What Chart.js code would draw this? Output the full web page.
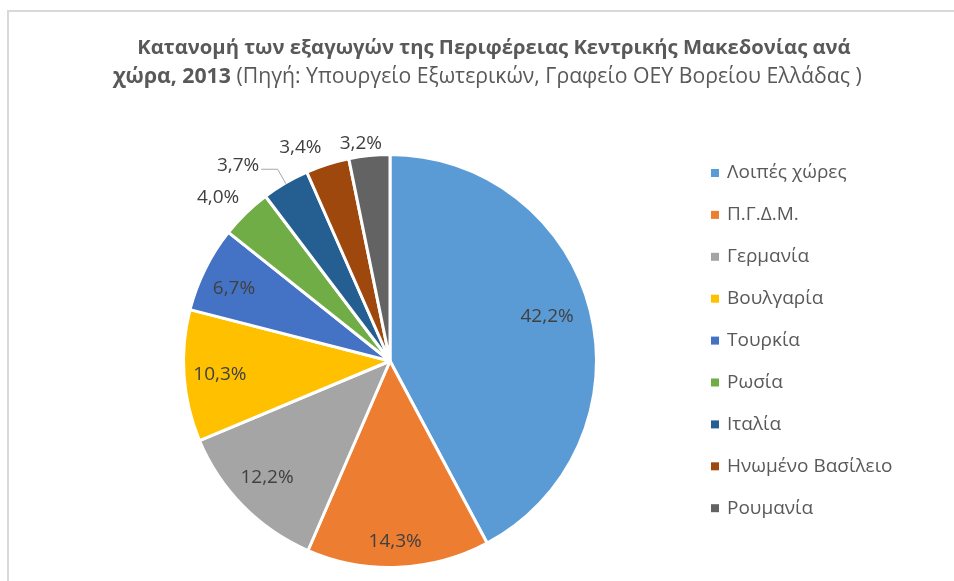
<!DOCTYPE html>
<html><head><meta charset="utf-8">
<script src="https://cdn.jsdelivr.net/npm/chart.js@4"></script>
<style>html,body{margin:0;padding:0;background:#fff}canvas{display:block}</style>
</head><body>
<canvas id="c" width="954" height="581"></canvas>
<script>
const categories = ['Λοιπές χώρες','Π.Γ.Δ.Μ.','Γερμανία','Βουλγαρία','Τουρκία','Ρωσία','Ιταλία','Ηνωμένο Βασίλειο','Ρουμανία'];
const shares = [42.2, 14.3, 12.2, 10.3, 6.7, 4.0, 3.7, 3.4, 3.2];
const sliceColors = ['#5B9BD5','#ED7D31','#A5A5A5','#FFC000','#4472C4','#70AD47','#255E91','#9E480E','#636363'];
const titleLine1 = 'Κατανομή των εξαγωγών της Περιφέρειας Κεντρικής Μακεδονίας ανά';
const titleLine2Bold = 'χώρα, 2013';
const titleLine2Rest = ' (Πηγή: Υπουργείο Εξωτερικών, Γραφείο ΟΕΥ Βορείου Ελλάδας )';

// label placement style: [radius fraction, angle shift (deg), leader line]
const labelPlacement = [[0.79,-1.6,false],[0.877,0.7,false],[0.82,1.2,false],[0.826,-0.3,false],[0.832,-1.7,false],[1.15,-2.1,false],[1.2,-7.4,true],[1.123,-5.1,false],[1.06,-1.9,false]];

const FAMILY = '"Open Sans", "Noto Sans", sans-serif';

const framePlugin = {
  id: 'frame',
  beforeDraw(chart) {
    const ctx = chart.ctx;
    ctx.save();
    ctx.fillStyle = '#d9d9d9';
    ctx.fillRect(7, 10, 2, 571);
    ctx.fillRect(7, 10, 947, 2);
    ctx.restore();
  }
};

const titlePlugin = {
  id: 'mixedTitle',
  afterDraw(chart) {
    const ctx = chart.ctx;
    ctx.save();
    ctx.fillStyle = '#595959';
    ctx.textBaseline = 'middle';
    ctx.font = 'bold 20px ' + FAMILY;
    const w1 = ctx.measureText(titleLine1).width;
    const s1 = 20 * 714 / w1;
    ctx.font = 'bold ' + s1 + 'px ' + FAMILY;
    ctx.textAlign = 'center';
    ctx.fillText(titleLine1, 494, 48);
    ctx.font = 'bold 20px ' + FAMILY;
    const wb = ctx.measureText(titleLine2Bold).width;
    ctx.font = '20px ' + FAMILY;
    const wn = ctx.measureText(titleLine2Rest).width;
    const s2 = 20 * 749 / (wb + wn);
    ctx.textAlign = 'left';
    ctx.font = 'bold ' + s2 + 'px ' + FAMILY;
    ctx.fillText(titleLine2Bold, 113, 77);
    const wbs = ctx.measureText(titleLine2Bold).width;
    ctx.font = s2 + 'px ' + FAMILY;
    ctx.fillText(titleLine2Rest, 113 + wbs, 77);
    ctx.restore();
  }
};

const legendPlugin = {
  id: 'sideLegend',
  afterDraw(chart) {
    const ctx = chart.ctx;
    const ds = chart.data.datasets[0];
    ctx.save();
    ctx.font = '19px ' + FAMILY;
    ctx.textBaseline = 'middle';
    ctx.textAlign = 'left';
    chart.data.labels.forEach((lab, i) => {
      const yc = 173 + i * 41.9;
      ctx.fillStyle = ds.backgroundColor[i];
      ctx.fillRect(711, yc - 4, 8, 8);
      ctx.fillStyle = '#595959';
      ctx.fillText(lab, 727, yc);
    });
    ctx.restore();
  }
};

const labelPlugin = {
  id: 'sliceLabels',
  afterDatasetsDraw(chart) {
    const ctx = chart.ctx;
    const meta = chart.getDatasetMeta(0);
    const vals = chart.data.datasets[0].data;
    ctx.save();
    ctx.font = '19px ' + FAMILY;
    ctx.fillStyle = '#404040';
    ctx.textAlign = 'center';
    ctx.textBaseline = 'middle';
    meta.data.forEach((arc, i) => {
      const p = arc.getProps(['x','y','startAngle','endAngle','outerRadius'], true);
      const [k, dDeg, leader] = labelPlacement[i];
      const mid = (p.startAngle + p.endAngle) / 2;
      const a = mid + dDeg * Math.PI / 180;
      const lx = p.x + Math.cos(a) * p.outerRadius * k;
      const ly = p.y + Math.sin(a) * p.outerRadius * k;
      const txt = vals[i].toFixed(1).replace('.', ',') + '%';
      ctx.fillText(txt, lx, ly);
      if (leader) {
        const tw = ctx.measureText(txt).width;
        const ex = p.x + Math.cos(mid) * (p.outerRadius - 1);
        const ey = p.y + Math.sin(mid) * (p.outerRadius - 1);
        const y0 = ly + 4;
        const bx = ex - (ey - y0) * 0.57;
        ctx.strokeStyle = '#a6a6a6';
        ctx.lineWidth = 1;
        ctx.beginPath();
        ctx.moveTo(lx + tw / 2 + 2, y0);
        ctx.lineTo(bx, y0);
        ctx.lineTo(ex, ey);
        ctx.stroke();
      }
    });
    ctx.restore();
  }
};

new Chart(document.getElementById('c'), {
  type: 'pie',
  data: {
    labels: categories,
    datasets: [{
      data: shares,
      backgroundColor: sliceColors,
      borderColor: '#ffffff',
      borderWidth: 3,
      radius: 206.5
    }]
  },
  options: {
    responsive: false,
    animation: false,
    layout: { padding: { left: 170, right: 344, top: 145, bottom: 4 } },
    plugins: { legend: { display: false }, title: { display: false }, tooltip: { enabled: false } }
  },
  plugins: [framePlugin, labelPlugin, legendPlugin, titlePlugin]
});
</script>
</body></html>
